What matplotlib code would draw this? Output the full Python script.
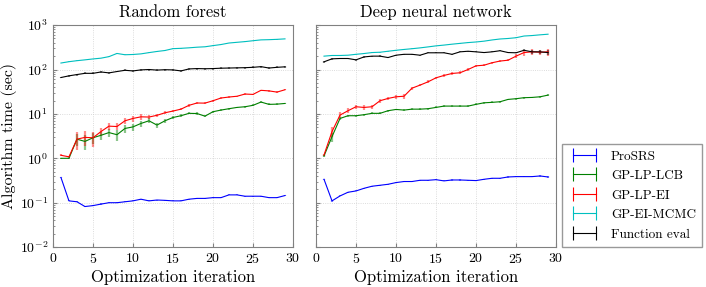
import matplotlib
matplotlib.use("Agg")
import matplotlib.pyplot as plt
from matplotlib.lines import Line2D

plt.rcParams['font.family'] = ['cmr10']
plt.rcParams['mathtext.fontset'] = 'cm'
plt.rcParams['axes.formatter.use_mathtext'] = True

iters = list(range(1, 30))

# Random forest
rf_prosrs = [0.37, 0.11, 0.105, 0.082, 0.086, 0.093, 0.1, 0.1, 0.105, 0.11, 0.12, 0.11, 0.115, 0.113, 0.11,
             0.11, 0.12, 0.125, 0.125, 0.13, 0.13, 0.15, 0.15, 0.14, 0.14, 0.14, 0.13, 0.13, 0.145]
rf_lcb = [1.0, 1.0, 2.7, 2.4, 2.9, 3.3, 3.8, 3.4, 4.7, 5.1, 6.1, 7.0, 5.6, 7.0, 8.3,
          9.1, 10.3, 10.2, 8.9, 11.2, 12.2, 13.1, 14.0, 14.5, 15.6, 18.5, 16.4, 16.6, 17.2]
rf_ei = [1.17, 1.08, 2.7, 2.96, 2.9, 4.0, 5.3, 5.2, 7.0, 7.9, 8.6, 8.5, 9.3, 10.6, 11.6,
         12.8, 15.6, 17.6, 17.5, 19.8, 22.8, 24, 25, 28, 27.5, 34, 33, 31, 35]
rf_mcmc = [140, 150, 158, 165, 173, 180, 195, 230, 215, 218, 225, 240, 255, 268, 295,
           300, 308, 318, 325, 345, 365, 395, 410, 425, 445, 465, 470, 478, 490]
rf_feval = [66, 72, 77, 82, 82, 88, 84, 90, 96, 93, 98, 100, 97, 99, 98,
            93, 103, 105, 104, 105, 107, 108, 109, 110, 112, 116, 108, 112, 115]

rf_prosrs_err = [0.004, 0.003, 0.003, 0.003, 0.003, 0.003, 0.003, 0.003, 0.003, 0.003, 0.003, 0.003, 0.003, 0.003, 0.003,
                 0.003, 0.003, 0.003, 0.003, 0.003, 0.003, 0.004, 0.004, 0.004, 0.004, 0.004, 0.004, 0.004, 0.004]
rf_lcb_err = [0.03, 0.03, 0.8, 0.9, 0.8, 0.7, 0.8, 0.9, 1.0, 0.9, 1.0, 0.9, 0.8, 0.7, 0.6,
              0.6, 0.6, 0.6, 0.5, 0.5, 0.6, 0.6, 0.6, 0.7, 0.7, 0.8, 0.8, 0.8, 0.8]
rf_ei_err = [0.05, 0.05, 1.2, 1.1, 1.1, 0.8, 1.0, 0.9, 1.2, 1.2, 1.3, 1.0, 0.9, 0.8, 0.8,
             0.8, 1.0, 1.0, 0.8, 0.8, 0.8, 0.8, 0.8, 1.0, 1.0, 1.2, 1.2, 1.2, 1.2]
rf_mcmc_err = [2, 2, 2, 2, 2, 2, 2, 3, 3, 3, 3, 3, 3, 3, 3,
               3, 3, 3, 3, 4, 4, 4, 4, 4, 4, 4, 4, 4, 4]
rf_feval_err = [3, 3, 4, 4, 4, 4, 4, 4, 5, 5, 5, 5, 5, 5, 5,
                5, 5, 5, 5, 5, 5, 5, 5, 5, 5, 6, 6, 6, 6]

# Deep neural network
dnn_prosrs = [0.337, 0.110, 0.142, 0.172, 0.184, 0.211, 0.235, 0.247, 0.26, 0.284, 0.30, 0.30, 0.32, 0.32, 0.33,
              0.31, 0.325, 0.325, 0.32, 0.315, 0.337, 0.355, 0.355, 0.38, 0.387, 0.387, 0.387, 0.40, 0.38]
dnn_lcb = [1.13, 3.07, 7.9, 9.1, 9.1, 9.6, 10.3, 10.3, 11.8, 12.6, 12.2, 12.8, 12.8, 13.1, 14.0,
           15.0, 15.0, 15.0, 15.0, 16.4, 17.8, 18.2, 18.8, 21.2, 22, 23.2, 23.5, 24.3, 26.5]
dnn_ei = [1.19, 4.0, 9.4, 11.8, 14.5, 14.0, 14.5, 19.8, 22.3, 24.3, 25, 38, 44.5, 52.8, 65,
          73.5, 81.5, 84.5, 100, 121, 125, 142, 155, 162, 200, 241, 250, 245, 250]
dnn_mcmc = [200, 207, 207, 210, 220, 229, 241, 245, 258, 271, 283, 294, 307, 323, 341,
            355, 372, 388, 404, 417, 435, 463, 487, 500, 520, 568, 582, 604, 624]
dnn_feval = [149, 174, 177, 177, 165, 192, 200, 200, 186, 210, 220, 220, 210, 238, 238,
             238, 220, 250, 258, 250, 241, 250, 265, 241, 238, 271, 250, 250, 241]

dnn_prosrs_err = [0.005, 0.004, 0.004, 0.005, 0.005, 0.006, 0.006, 0.007, 0.007, 0.008, 0.008, 0.008, 0.009, 0.009, 0.009,
                  0.009, 0.009, 0.009, 0.009, 0.009, 0.01, 0.01, 0.01, 0.011, 0.011, 0.011, 0.011, 0.012, 0.011]
dnn_lcb_err = [0.05, 0.7, 0.5, 0.5, 0.5, 0.5, 0.5, 0.6, 0.6, 0.6, 0.6, 0.6, 0.6, 0.7, 0.7,
               0.7, 0.7, 0.8, 0.8, 0.8, 0.9, 0.9, 0.9, 1.0, 1.0, 1.0, 1.0, 1.1, 1.2]
dnn_ei_err = [0.05, 1.0, 1.5, 1.5, 1.5, 1.5, 1.5, 2, 2, 2.5, 3, 3, 3, 4, 4,
              5, 5, 6, 6, 7, 7, 8, 9, 10, 20, 40, 40, 35, 45]
dnn_mcmc_err = [3, 3, 3, 3, 3, 3, 3, 4, 4, 4, 4, 4, 4, 5, 5,
                5, 5, 5, 6, 6, 6, 6, 7, 7, 7, 8, 8, 8, 9]
dnn_feval_err = [6, 6, 6, 6, 6, 6, 6, 7, 7, 7, 7, 7, 7, 8, 8,
                 8, 8, 8, 8, 8, 8, 8, 8, 8, 8, 15, 30, 25, 30]

labels = ['ProSRS', 'GP-LP-LCB', 'GP-LP-EI', 'GP-EI-MCMC', 'Function eval']
colors = ['#0000ff', '#008000', '#ff0000', '#00bfbf', '#000000']

rf_data = [(rf_prosrs, rf_prosrs_err), (rf_lcb, rf_lcb_err), (rf_ei, rf_ei_err),
           (rf_mcmc, rf_mcmc_err), (rf_feval, rf_feval_err)]
dnn_data = [(dnn_prosrs, dnn_prosrs_err), (dnn_lcb, dnn_lcb_err), (dnn_ei, dnn_ei_err),
            (dnn_mcmc, dnn_mcmc_err), (dnn_feval, dnn_feval_err)]

fig = plt.figure(figsize=(7.06, 2.87), dpi=100)
ax1 = fig.add_axes([0.075, 0.139, 0.34, 0.7735])
ax2 = fig.add_axes([0.4476, 0.139, 0.34, 0.7735])

for ax, data, title in [(ax1, rf_data, 'Random forest'), (ax2, dnn_data, 'Deep neural network')]:
    for (vals, errs), c in zip(data, colors):
        ax.plot(iters, vals, color=c, lw=0.8, zorder=3)
        ax.errorbar(iters, vals, yerr=errs, fmt='none', ecolor=c, elinewidth=1.6,
                    alpha=0.45, capsize=0, zorder=2)
    ax.set_yscale('log')
    ax.set_ylim(1e-2, 1e3)
    ax.set_xlim(0, 30)
    ax.set_xticks([0, 5, 10, 15, 20, 25, 30])
    ax.set_title(title, fontsize=12, pad=6)
    ax.set_xlabel('Optimization iteration', fontsize=12, labelpad=3)
    ax.grid(True, which='major', ls=':', color='#d0d0d0', lw=0.6)
    ax.tick_params(which='both', direction='in', color='#808080', labelsize=10)
    ax.tick_params(which='major', length=3)
    ax.tick_params(which='minor', length=1.5)
    for s in ax.spines.values():
        s.set_color('#808080')
        s.set_linewidth(0.8)

ax1.set_ylabel('Algorithm time (sec)', fontsize=11.5)
ax1.yaxis.set_label_coords(-0.148, 0.5)
ax2.tick_params(labelleft=False)

handles = [Line2D([0], [0], color=c, lw=0.8, marker='|', markersize=10, markeredgewidth=0.8)
           for c in colors]
fig.legend(handles, labels, loc='lower left', bbox_to_anchor=(0.796, 0.139), numpoints=2,
           fontsize=9.5, frameon=True, fancybox=False, edgecolor='#808080',
           borderaxespad=0, handlelength=2.4, labelspacing=0.55, borderpad=0.5)

fig.savefig('out.png', dpi=100)
